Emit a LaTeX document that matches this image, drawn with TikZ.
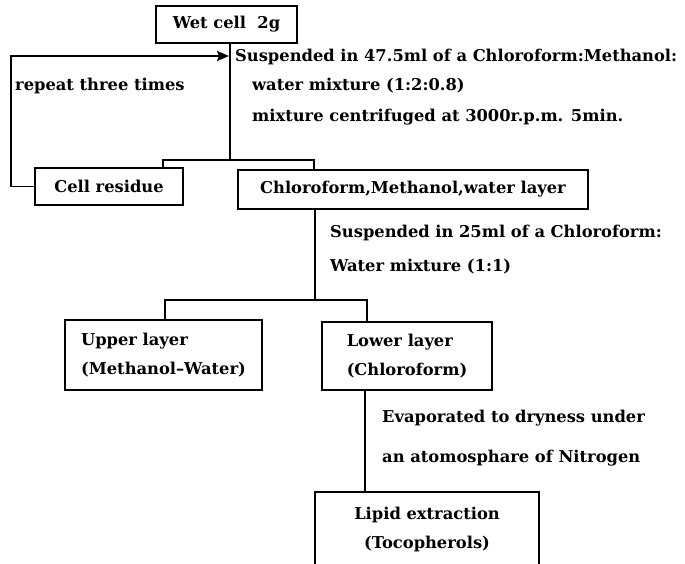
\documentclass[tikz,border=0pt]{standalone}
\usepackage{fontspec}
\setmainfont{DejaVu Serif}
\usetikzlibrary{arrows.meta, positioning}

\begin{document}
\begin{tikzpicture}[x=1pt, y=-1pt,
  every node/.style={font=\fontsize{16.3}{29}\selectfont\bfseries},
  stepbox/.style={draw, line width=1.6pt, inner sep=0pt, align=left},
  note/.style={anchor=west, inner sep=0pt},
  link/.style={line width=1.6pt}]
\useasboundingbox (0,0) rectangle (685,564);
% Boxes of the separation scheme
\node[stepbox, minimum width=141pt, minimum height=37pt] (wet) at (226.5,24.5) {Wet cell\ \ 2g};
\node[stepbox, minimum width=148pt, minimum height=37pt] (residue) at (109,186.5) {Cell residue};
\node[stepbox, minimum width=350pt, minimum height=39pt] (layer) at (413,189.5) {Chloroform,Methanol,water layer};
\node[stepbox, minimum width=197pt, minimum height=70pt] (upper) at (163.5,355) {Upper layer\\(Methanol--Water)};
\node[stepbox, minimum width=170pt, minimum height=68pt] (lower) at (407,356) {Lower layer\\(Chloroform)};
\node[stepbox, align=center, minimum width=224pt, minimum height=74pt] (lipid) at (427,529) {Lipid extraction\\(Tocopherols)};
% Step notes
\node[note] (susp) at (235,57) {Suspended in 47.5ml of a Chloroform:Methanol:};
\node[note] (water) at (252,86) {water mixture (1:2:0.8)};
\node[note] (centri) at (252,117) {mixture centrifuged at 3000r.p.m. 5min.};
\node[note] (repeat) at (15,86) {repeat three times};
\node[note] (susp2) at (330,233) {Suspended in 25ml of a Chloroform:};
\node[note] (water2) at (330,267) {Water mixture (1:1)};
\node[note] (evap) at (382,418) {Evaporated to dryness under};
\node[note] (nitro) at (382,458) {an atomosphare of Nitrogen};
% Branch points
\coordinate (trunk) at (230,160);
\coordinate (br1l) at (163,160);
\coordinate (br1r) at (314,160);
\coordinate (br2) at (315,300);
\coordinate (br2l) at (165,300);
\coordinate (br2r) at (367,300);
\coordinate (back) at (229,56);
% Connectors
\draw[link] (wet.south -| trunk) -- (trunk);
\draw[link] (residue.north -| br1l) -- (br1l) -- (br1r) -- (layer.north -| br1r);
\draw[link] (layer.south -| br2) -- (br2);
\draw[link] (upper.north -| br2l) -- (br2l) -- (br2r) -- (lower.north -| br2r);
\draw[link] (lower.south -| 365,0) -- (lipid.north -| 365,0);
\draw[link, -{Stealth[length=12pt, width=10pt, inset=2pt]}] (residue.west) -- ++(-23,0) |- (back);
\end{tikzpicture}
\end{document}
